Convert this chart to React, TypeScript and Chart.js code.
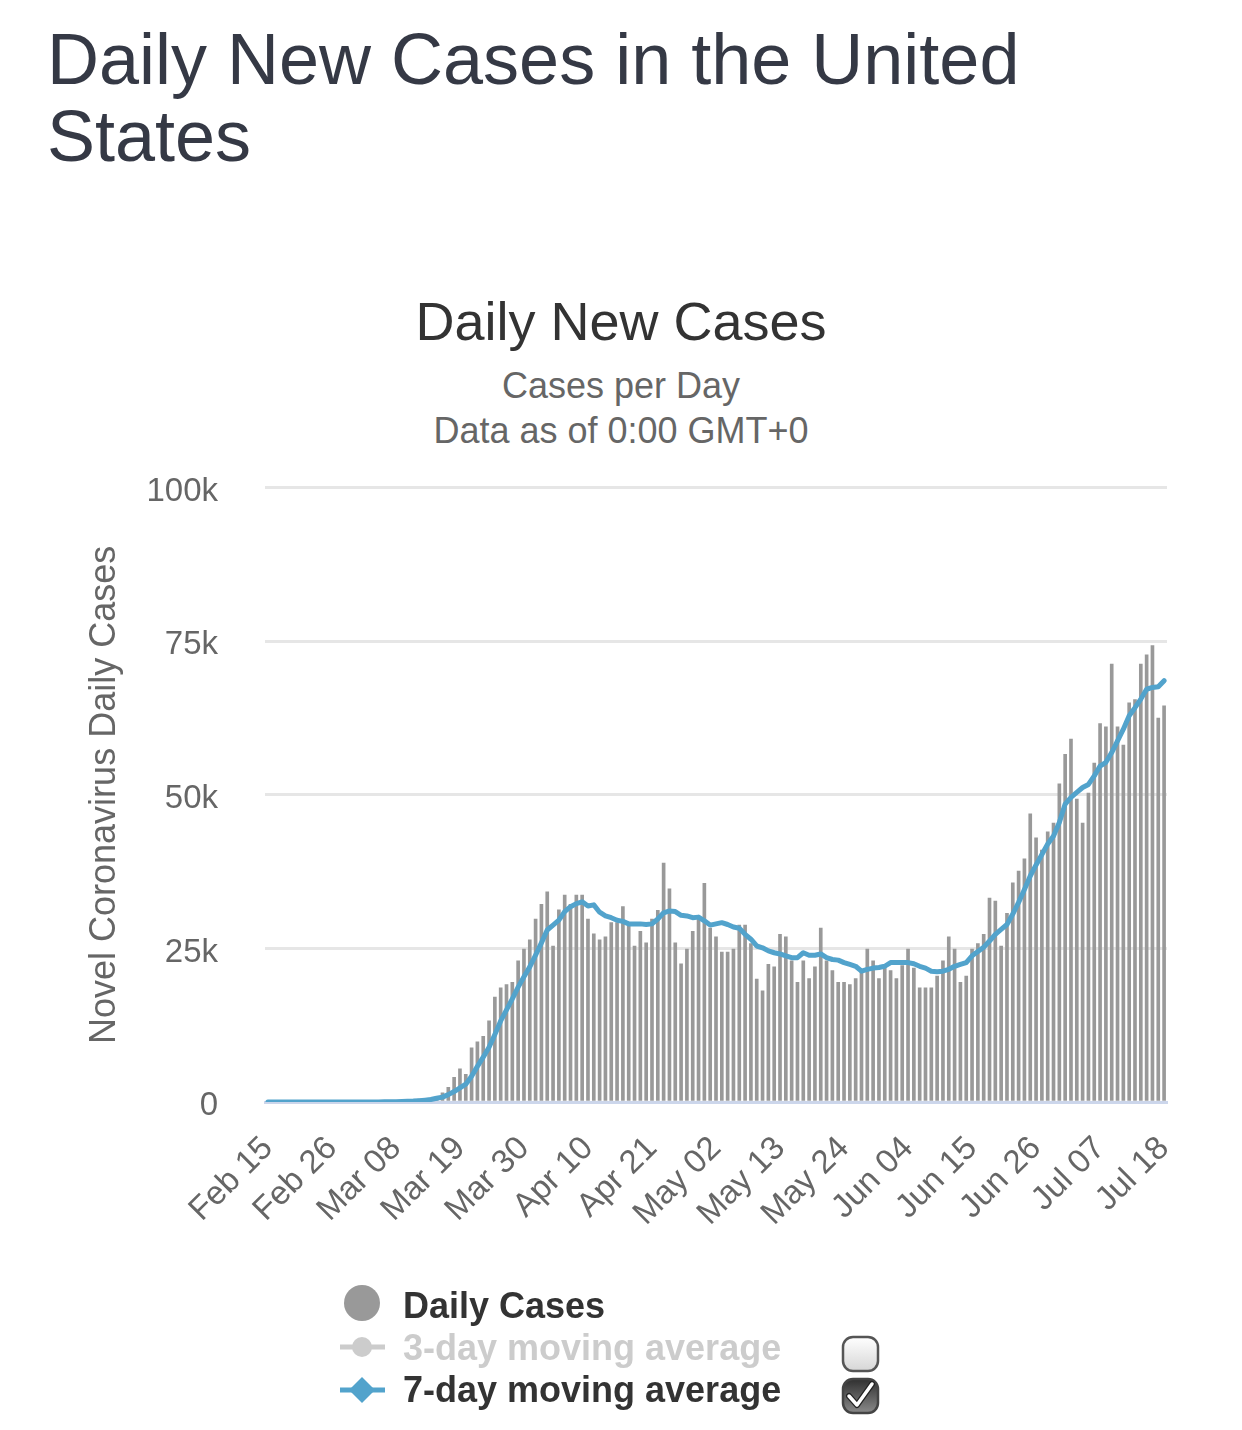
import React, { useEffect, useRef } from "react";
import { Chart, registerables } from "chart.js";

Chart.register(...registerables);

const FONT = '"Liberation Sans", Arial, Helvetica, sans-serif';

// Daily new cases, one value per day starting Feb 15 (2020)
const dailyCases: number[] = [
  0, 0, 0, 0, 0, 1, 0, 0, 0, 18,
  0, 1, 0, 6, 1, 10, 23, 25, 48, 55,
  80, 100, 110, 170, 290, 320, 460, 520, 650, 850,
  1500, 2400, 4000, 5400, 4500, 8800, 9800, 10700, 13200, 17100,
  18600, 19100, 19500, 23000, 24900, 26400, 29800, 32200, 34200, 25400,
  31300, 33700, 32200, 33700, 33700, 29800, 27400, 26400, 26900, 29200,
  29200, 31800, 28800, 25400, 27800, 25900, 29800, 31200, 38900, 34700,
  25900, 22500, 24900, 27800, 30000, 35600, 28300, 26900, 24400, 24400,
  24900, 28800, 28800, 25800, 20000, 18100, 22400, 22000, 27300, 26900,
  23000, 19500, 23000, 20100, 22000, 28300, 23000, 21400, 19500, 19500,
  19100, 20100, 21500, 24900, 23000, 20100, 22000, 21400, 20100, 22200,
  24900, 21800, 18600, 18600, 18600, 20500, 23000, 26900, 24900, 19500,
  20500, 24900, 25800, 27300, 33200, 32700, 25400, 30700, 35700, 37600,
  39600, 46900, 43000, 41000, 44000, 45400, 51800, 56600, 59100, 49300,
  45400, 50300, 55200, 61600, 61100, 71300, 61100, 58100, 65000, 65500,
  71300, 72800, 74300, 62500, 64500,
];

// 7-day moving average
const sevenDayAverage: number[] = [
  0, 0, 0, 0, 0, 0, 0, 0, 0, 3,
  3, 3, 3, 3, 4, 5, 8, 10, 15, 20,
  25, 35, 50, 70, 110, 150, 220, 300, 400, 600,
  800, 1200, 1700, 2300, 2900, 4200, 5800, 7300, 8900, 11000,
  13200, 15000, 16800, 18700, 20400, 22000, 23900, 25900, 28000, 28800,
  29600, 31000, 31800, 32300, 32600, 31900, 32100, 30900, 30300, 30000,
  29600, 29400, 29000, 29000, 29000, 28900, 29000, 29800, 30800, 31100,
  31000, 30400, 30300, 30000, 30100, 29500, 28800, 29000, 29200, 28900,
  28500, 28300, 27300, 26500, 25400, 25100, 24600, 24300, 24100, 23800,
  23500, 23500, 24300, 23900, 23900, 24100, 23500, 23200, 23100, 22700,
  22400, 22100, 21300, 21600, 21800, 21900, 22100, 22700, 22700, 22700,
  22700, 22500, 22100, 21800, 21300, 21200, 21300, 21600, 22100, 22400,
  22700, 23800, 24500, 25200, 26200, 27300, 28100, 28900, 30600, 32500,
  34600, 36800, 38600, 40300, 42000, 43300, 45500, 48500, 49600, 50400,
  51200, 51700, 53100, 54700, 55300, 56900, 58800, 60700, 62900, 64200,
  65600, 67200, 67500, 67600, 68600,
];

const tickLabels: string[] = [
  "Feb 15", "Feb 26", "Mar 08", "Mar 19", "Mar 30", "Apr 10", "Apr 21", "May 02",
  "May 13", "May 24", "Jun 04", "Jun 15", "Jun 26", "Jul 07", "Jul 18",
];

const yTickLabels: Record<number, string> = { 0: "0", 25000: "25k", 50000: "50k", 75000: "75k", 100000: "100k" };

const MONTHS = ["Jan", "Feb", "Mar", "Apr", "May", "Jun", "Jul", "Aug", "Sep", "Oct", "Nov", "Dec"];
const categories: string[] = dailyCases.map((_, i) => {
  const d = new Date(Date.UTC(2020, 1, 15 + i));
  return `${MONTHS[d.getUTCMonth()]} ${String(d.getUTCDate()).padStart(2, "0")}`;
});

const BLUE = "#52a3cc";
const BAR = "#999999";

export default function App() {
  const canvasRef = useRef<HTMLCanvasElement | null>(null);

  useEffect(() => {
    const canvas = canvasRef.current;
    if (!canvas) return;
    const chart = new Chart(canvas, {
      type: "bar",
      data: {
        labels: categories,
        datasets: [
          {
            type: "line",
            label: "7-day moving average",
            data: sevenDayAverage,
            borderColor: BLUE,
            backgroundColor: BLUE,
            borderWidth: 5,
            pointRadius: 0,
            tension: 0,
            borderJoinStyle: "round",
            borderCapStyle: "round",
            order: 0,
          } as any,
          {
            type: "bar",
            label: "Daily Cases",
            data: dailyCases,
            backgroundColor: BAR,
            barThickness: 3,
            order: 1,
          } as any,
        ],
      },
      options: {
        animation: false,
        responsive: false,
        devicePixelRatio: 1,
        layout: { padding: { left: 83, top: 0, right: 75, bottom: 38 } },
        plugins: {
          legend: { display: false },
          tooltip: { enabled: false },
          title: { display: false },
        },
        scales: {
          x: {
            grid: { display: false, drawTicks: false },
            border: { display: true, color: "#ccd6eb", width: 3 },
            ticks: {
              autoSkip: false,
              minRotation: 45,
              maxRotation: 45,
              padding: 27,
              color: "#666666",
              font: { family: FONT, size: 33 },
              callback: (_v: any, i: number) => (tickLabels.includes(categories[i]) ? categories[i] : ""),
            },
            afterFit: (s: any) => {
              s.height = 130;
            },
          },
          y: {
            min: 0,
            max: 100000,
            grid: { color: "#e6e6e6", lineWidth: 3, drawTicks: false },
            border: { display: false },
            ticks: {
              stepSize: 25000,
              padding: 47,
              labelOffset: 4,
              color: "#666666",
              font: { family: FONT, size: 33 },
              callback: (v: any) => yTickLabels[Number(v)] ?? "",
            },
            title: {
              display: true,
              text: "Novel Coronavirus Daily Cases",
              color: "#666666",
              font: { family: FONT, size: 36 },
              padding: 0,
            },
            afterFit: (s: any) => {
              s.width = 182;
            },
          },
        },
      } as any,
    });
    return () => chart.destroy();
  }, []);

  const textBase: React.CSSProperties = { position: "absolute", fontFamily: FONT, whiteSpace: "nowrap", lineHeight: 1 };

  return (
    <div style={{ position: "absolute", left: 0, top: 0, width: 1242, height: 1430, background: "#ffffff", overflow: "hidden" }}>
      <div
        style={{
          position: "absolute",
          left: 47,
          top: 21,
          width: 1150,
          fontFamily: FONT,
          fontSize: 72,
          lineHeight: "77px",
          color: "#353945",
        }}
      >
        Daily New Cases in the United States
      </div>

      <div style={{ ...textBase, left: 0, width: 1242, top: 294, textAlign: "center", fontSize: 54, color: "#333333" }}>
        Daily New Cases
      </div>
      <div style={{ ...textBase, left: 0, width: 1242, top: 368, textAlign: "center", fontSize: 36, color: "#666666" }}>
        Cases per Day
      </div>
      <div style={{ ...textBase, left: 0, width: 1242, top: 413, textAlign: "center", fontSize: 36, color: "#666666" }}>
        Data as of 0:00 GMT+0
      </div>

      <canvas ref={canvasRef} width={1242} height={849} style={{ position: "absolute", left: 0, top: 421, width: 1242, height: 849 }} />

      <svg width={1242} height={1430} style={{ position: "absolute", left: 0, top: 0, pointerEvents: "none" }}>
        <defs>
          <linearGradient id="cbOff" x1="0" y1="0" x2="0" y2="1">
            <stop offset="0" stopColor="#ffffff" />
            <stop offset="1" stopColor="#d6d6d6" />
          </linearGradient>
          <linearGradient id="cbOn" x1="0" y1="0" x2="0" y2="1">
            <stop offset="0" stopColor="#2f2f2f" />
            <stop offset="1" stopColor="#8a8a8a" />
          </linearGradient>
        </defs>
        <circle cx={362} cy={1303} r={18} fill={BAR} />
        <line x1={340} y1={1347} x2={385} y2={1347} stroke="#cccccc" strokeWidth={5} />
        <circle cx={362} cy={1347} r={10} fill="#cccccc" />
        <line x1={340} y1={1390} x2={385} y2={1390} stroke={BLUE} strokeWidth={5} />
        <polygon points="362,1377 375,1390 362,1403 349,1390" fill={BLUE} />
        <rect x={843} y={1337} width={35} height={34} rx={10} ry={10} fill="url(#cbOff)" stroke="#555555" strokeWidth={2.5} />
        <rect x={843} y={1379} width={35} height={34} rx={10} ry={10} fill="url(#cbOn)" stroke="#444444" strokeWidth={2.5} />
        <path d="M849,1396 L857,1405 L872,1384" fill="none" stroke="#222222" strokeWidth={6} strokeLinecap="round" strokeLinejoin="round" />
        <path d="M849,1396 L857,1405 L872,1384" fill="none" stroke="#ffffff" strokeWidth={3.5} strokeLinecap="round" strokeLinejoin="round" />
      </svg>

      <div style={{ ...textBase, left: 403, top: 1288, fontSize: 36, fontWeight: "bold", color: "#333333" }}>Daily Cases</div>
      <div style={{ ...textBase, left: 403, top: 1330, fontSize: 36, fontWeight: "bold", color: "#cccccc" }}>3-day moving average</div>
      <div style={{ ...textBase, left: 403, top: 1372, fontSize: 36, fontWeight: "bold", color: "#333333" }}>7-day moving average</div>
    </div>
  );
}
